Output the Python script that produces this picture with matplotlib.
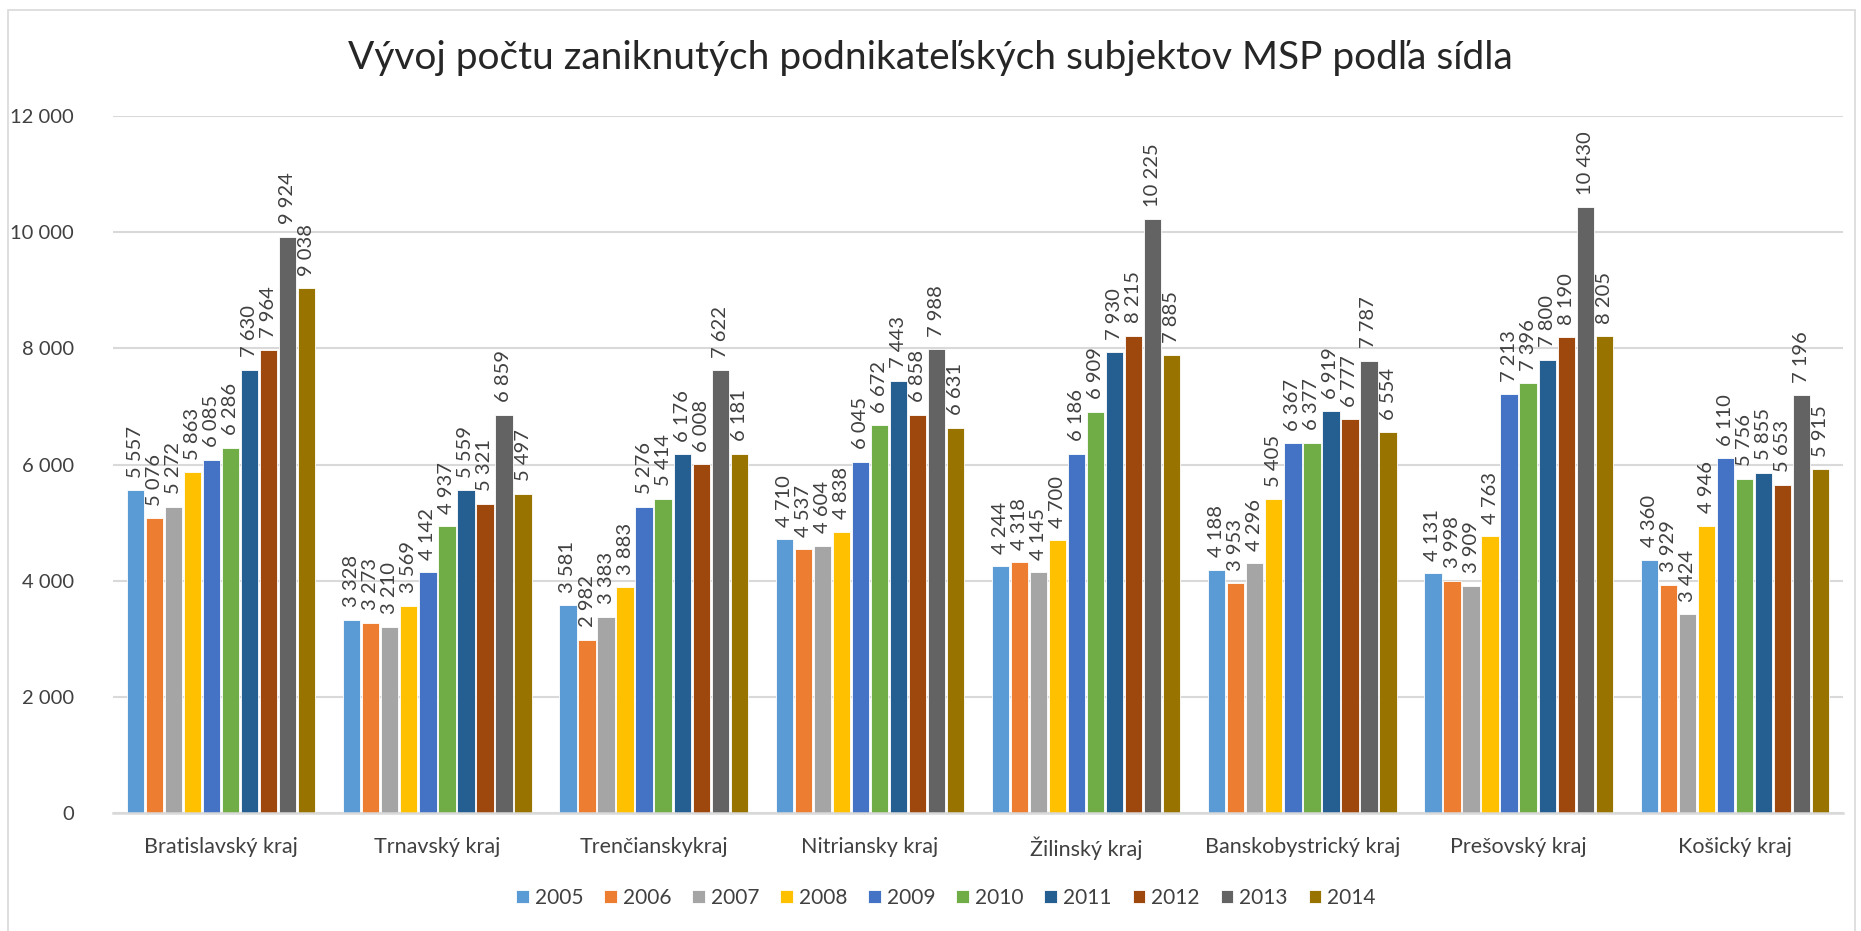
import matplotlib
matplotlib.use("Agg")
import matplotlib.pyplot as plt
import numpy as np
from matplotlib.patches import Rectangle

regions = ["Bratislavský kraj", "Trnavský kraj", "Trenčianskykraj", "Nitriansky kraj",
           "Žilinský kraj", "Banskobystrický kraj", "Prešovský kraj", "Košický kraj"]
years = ["2005", "2006", "2007", "2008", "2009", "2010", "2011", "2012", "2013", "2014"]

v2005 = [5557, 3328, 3581, 4710, 4244, 4188, 4131, 4360]
v2006 = [5076, 3273, 2982, 4537, 4318, 3953, 3998, 3929]
v2007 = [5272, 3210, 3383, 4604, 4145, 4296, 3909, 3424]
v2008 = [5863, 3569, 3883, 4838, 4700, 5405, 4763, 4946]
v2009 = [6085, 4142, 5276, 6045, 6186, 6367, 7213, 6110]
v2010 = [6286, 4937, 5414, 6672, 6909, 6377, 7396, 5756]
v2011 = [7630, 5559, 6176, 7443, 7930, 6919, 7800, 5855]
v2012 = [7964, 5321, 6008, 6858, 8215, 6777, 8190, 5653]
v2013 = [9924, 6859, 7622, 7988, 10225, 7787, 10430, 7196]
v2014 = [9038, 5497, 6181, 6631, 7885, 6554, 8205, 5915]
series = [v2005, v2006, v2007, v2008, v2009, v2010, v2011, v2012, v2013, v2014]

colors = ["#5B9BD5", "#ED7D31", "#A5A5A5", "#FFC000", "#4472C4",
          "#70AD47", "#255E91", "#9E480E", "#636363", "#997300"]

FONT = "Lato"
TXT = "#404040"

fig = plt.figure(figsize=(18.61, 9.31), dpi=100)
fig.patch.set_facecolor("white")
# chart border
fig.patches.append(Rectangle((8/1861, -0.05), (1855-8)/1861, 1.05 - 10/931,
                             transform=fig.transFigure, fill=False,
                             edgecolor="#D9D9D9", linewidth=1.2))

ax = fig.add_axes([113/1861, 1-813/931, (1843-113)/1861, (813-116)/931])
ax.set_ylim(0, 12000)
ax.set_xlim(-0.5, len(regions) - 0.5)

x = np.arange(len(regions))
slot = 0.088
width = 0.080
for i, (vals, c) in enumerate(zip(series, colors)):
    pos = x + (i - 4.5) * slot
    ax.bar(pos, vals, width=width, color=c, label=years[i], zorder=3,
           edgecolor="white", linewidth=0.6)
    for xp, v in zip(pos, vals):
        lab = f"{v:,}".replace(",", " ")
        ax.annotate(lab, (xp, v), xytext=(0, 9), textcoords="offset points",
                    rotation=90, ha="center", va="bottom", fontsize=14.5,
                    color=TXT, family=FONT)

ax.set_yticks(np.arange(0, 12001, 2000))
ax.set_yticklabels([f"{t:,}".replace(",", " ") for t in range(0, 12001, 2000)],
                   fontsize=14.5, color=TXT, family=FONT)
ax.set_xticks(x)
ax.set_xticklabels(regions, fontsize=15.5, color=TXT, family=FONT)
ax.tick_params(axis="y", length=0, pad=28)
ax.tick_params(axis="x", length=0, pad=17)
ax.grid(axis="y", color="#D9D9D9", linewidth=1.5, zorder=0)
ax.set_axisbelow(True)
for s in ["top", "right", "left"]:
    ax.spines[s].set_visible(False)
ax.spines["bottom"].set_color("#D9D9D9")
ax.spines["bottom"].set_linewidth(1.8)
ax.spines["bottom"].set_zorder(4)

fig.text(0.5, 1 - 58/931, "Vývoj počtu zaniknutých podnikateľských subjektov MSP podľa sídla",
         ha="center", va="center", fontsize=28, color="#262626", family=FONT)

leg = fig.legend(loc="center", bbox_to_anchor=(946/1861, 1 - 898/931), ncol=10,
                 frameon=False, handlelength=0.6, handleheight=0.6,
                 handletextpad=0.3, columnspacing=1.0,
                 prop={"family": FONT, "size": 15})
for t in leg.get_texts():
    t.set_color(TXT)

fig.savefig("out.png", dpi=100, facecolor="white")
